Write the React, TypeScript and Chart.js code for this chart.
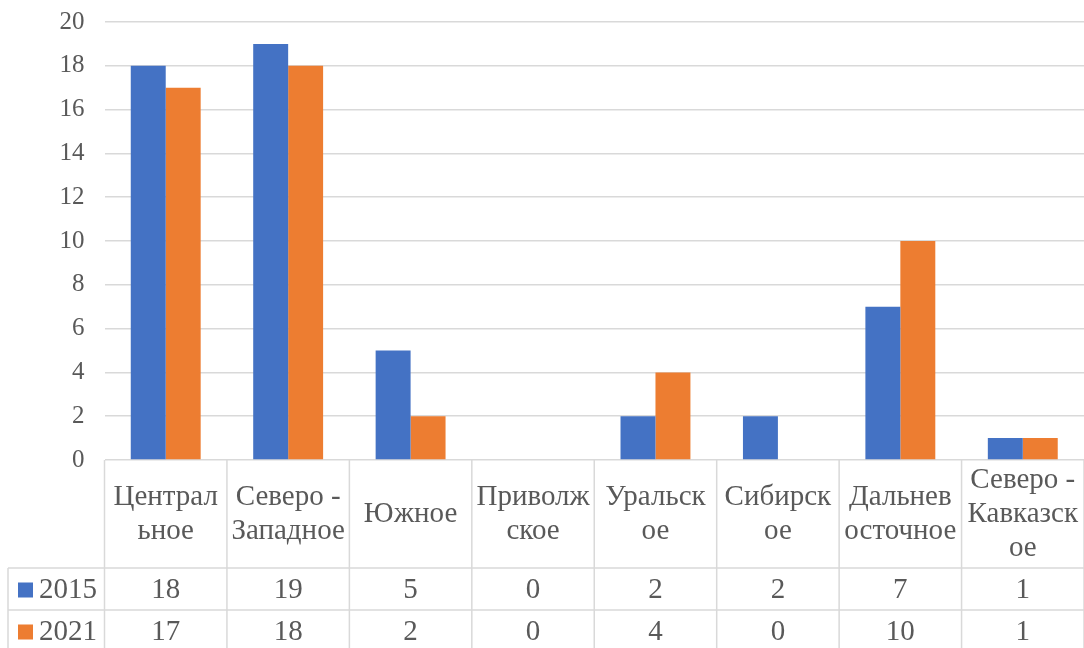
import React, { useEffect, useRef } from "react";
import { Chart, registerables } from "chart.js";

Chart.register(...registerables);

// Federal districts, split onto the lines shown in the table header
const categories: string[][] = [
  ["Централ", "ьное"],
  ["Северо -", "Западное"],
  ["Южное"],
  ["Приволж", "ское"],
  ["Уральск", "ое"],
  ["Сибирск", "ое"],
  ["Дальнев", "осточное"],
  ["Северо -", "Кавказск", "ое"],
];

const seriesNames = ["2015", "2021"];
const values2015 = [18, 19, 5, 0, 2, 2, 7, 1];
const values2021 = [17, 18, 2, 0, 4, 0, 10, 1];

const yMin = 0;
const yMax = 20;
const yStep = 2;

const BLUE = "#4472C4";
const ORANGE = "#ED7D31";
const TEXT = "#595959";
const GRID = "#d9d9d9";
const FONT = "'Liberation Serif', 'Times New Roman', serif";

// Data table drawn under the plot area, aligned with the category scale
const dataTablePlugin = {
  id: "dataTable",
  afterDraw(chart: any) {
    const ctx = chart.ctx as CanvasRenderingContext2D;
    const area = chart.chartArea;
    const xs = chart.scales.x;
    const labels = chart.data.labels as string[][];
    const n = labels.length;
    const cw = (area.right - area.left) / n;

    const headTop = area.bottom;
    const headBottom = headTop + 108;
    const rowH = 42;
    const tableLeft = 8;
    const bottom = headBottom + rowH * chart.data.datasets.length + 4;

    ctx.save();
    ctx.strokeStyle = GRID;
    ctx.lineWidth = 1.5;
    ctx.beginPath();
    for (let i = 0; i <= n; i++) {
      const x = area.left + i * cw;
      ctx.moveTo(x, headTop);
      ctx.lineTo(x, bottom);
    }
    ctx.moveTo(tableLeft, headBottom);
    ctx.lineTo(tableLeft, bottom);
    for (let r = 0; r < chart.data.datasets.length; r++) {
      const y = headBottom + r * rowH;
      ctx.moveTo(tableLeft, y);
      ctx.lineTo(area.right, y);
    }
    ctx.stroke();

    ctx.fillStyle = TEXT;
    ctx.textAlign = "center";
    ctx.textBaseline = "middle";
    ctx.font = `29px ${FONT}`;
    const lineH = 34;
    const headMid = (headTop + headBottom) / 2;
    labels.forEach((lines, i) => {
      const cx = xs.getPixelForValue(i);
      const y0 = headMid - ((lines.length - 1) * lineH) / 2;
      lines.forEach((t, k) => ctx.fillText(t, cx, y0 + k * lineH));
    });

    chart.data.datasets.forEach((ds: any, r: number) => {
      const cy = headBottom + r * rowH + rowH / 2 + 1;
      ctx.fillStyle = ds.backgroundColor;
      ctx.fillRect(18, cy - 7.5, 15, 15);
      ctx.fillStyle = TEXT;
      ctx.textAlign = "left";
      ctx.fillText(ds.label, 39, cy);
      ctx.textAlign = "center";
      ds.data.forEach((v: number, i: number) => {
        ctx.fillText(String(v), xs.getPixelForValue(i), cy);
      });
    });
    ctx.restore();
  },
};

export default function App() {
  const canvasRef = useRef<HTMLCanvasElement | null>(null);

  useEffect(() => {
    if (!canvasRef.current) return;
    const chart = new Chart(canvasRef.current, {
      type: "bar",
      data: {
        labels: categories as any,
        datasets: [
          {
            label: seriesNames[0],
            data: values2015,
            backgroundColor: BLUE,
            categoryPercentage: 0.571,
            barPercentage: 1,
          },
          {
            label: seriesNames[1],
            data: values2021,
            backgroundColor: ORANGE,
            categoryPercentage: 0.571,
            barPercentage: 1,
          },
        ],
      },
      options: {
        responsive: false,
        animation: false,
        layout: { padding: { top: 22, bottom: 188, left: 0, right: 0 } },
        plugins: {
          legend: { display: false },
          tooltip: { enabled: false },
        },
        scales: {
          x: { display: false },
          y: {
            min: yMin,
            max: yMax,
            ticks: {
              stepSize: yStep,
              color: TEXT,
              font: { family: FONT, size: 25 },
              padding: 20,
            },
            grid: { color: GRID, lineWidth: 1.5, drawTicks: false },
            border: { display: false },
            afterFit(scale: any) {
              scale.width = 104.5;
              scale.paddingTop = 0;
              scale.paddingBottom = 0;
            },
          },
        },
      },
      plugins: [dataTablePlugin],
    });
    return () => chart.destroy();
  }, []);

  return (
    <div style={{ position: "absolute", left: 0, top: 0, width: 1084, height: 648, background: "#fff" }}>
      <canvas ref={canvasRef} width={1084} height={648} />
    </div>
  );
}
